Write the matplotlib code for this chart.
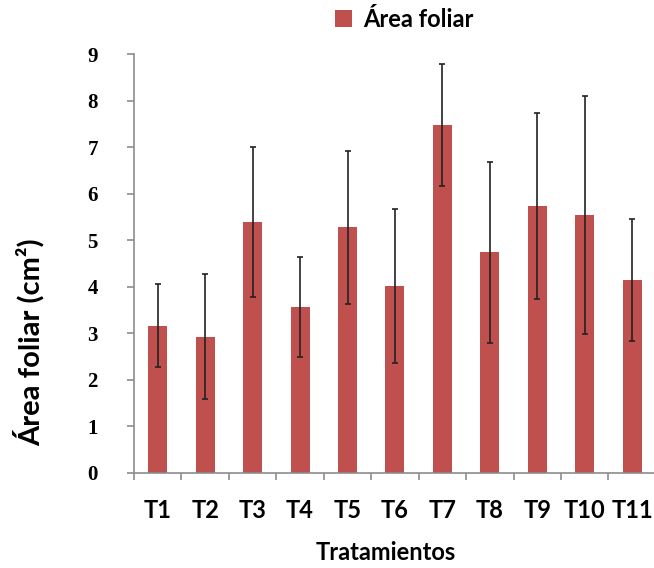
import matplotlib
matplotlib.use("Agg")
import matplotlib.pyplot as plt
import numpy as np

categories = ["T1", "T2", "T3", "T4", "T5", "T6", "T7", "T8", "T9", "T10", "T11"]
area_foliar = [3.16, 2.93, 5.40, 3.57, 5.28, 4.02, 7.47, 4.74, 5.74, 5.54, 4.14]
error = [0.89, 1.35, 1.61, 1.07, 1.64, 1.65, 1.31, 1.95, 2.00, 2.55, 1.31]
y_ticks = [0, 1, 2, 3, 4, 5, 6, 7, 8, 9]

bar_color = "#C0504D"
axis_color = "#8C8C8C"

fig = plt.figure(figsize=(6.54, 5.68), dpi=100)
ax = fig.add_axes([0.2049, 0.1673, 0.798, 0.7376])

x = np.arange(len(categories))
ax.bar(x, area_foliar, width=0.4, color=bar_color, label="Área foliar", zorder=2)
ax.errorbar(x, area_foliar, yerr=error, fmt="none", ecolor="#222222",
            elinewidth=1.2, capsize=2.2, capthick=1.2, zorder=3)

ax.set_xlim(-0.5, len(categories) - 0.5)
ax.set_ylim(0, 9)

for s in ["top", "right"]:
    ax.spines[s].set_visible(False)
for s in ["left", "bottom"]:
    ax.spines[s].set_color(axis_color)
    ax.spines[s].set_linewidth(1.2)

ax.set_yticks(y_ticks)
ax.set_yticklabels([str(v) for v in y_ticks], family="Liberation Serif",
                   fontweight="bold", fontsize=15)
ax.tick_params(axis="y", direction="out", length=5, width=1.2, color=axis_color, pad=21)

ax.set_xticks(x)
ax.set_xticklabels(categories, family="Lato", fontweight="bold", fontsize=17)
ax.tick_params(axis="x", which="major", length=0, pad=19)
ax.set_xticks(np.arange(-0.5, len(categories) + 0.5, 1.0), minor=True)
ax.tick_params(axis="x", which="minor", direction="out", length=5, width=1.2, color=axis_color)

ax.set_xlabel("Tratamientos", family="Lato", fontweight="bold", fontsize=17)
ax.xaxis.set_label_coords(0.483, -0.163)
ax.set_ylabel("Área foliar (cm²)", family="Lato", fontweight="bold", fontsize=21)
ax.yaxis.set_label_coords(-0.172, 0.313)

leg = fig.legend(loc="upper left", bbox_to_anchor=(0.48, 1.024), frameon=False,
                 prop={"family": "Lato", "weight": "bold", "size": 17},
                 handlelength=0.7, handleheight=0.7, handletextpad=0.5)

fig.savefig("out.png", dpi=100)
